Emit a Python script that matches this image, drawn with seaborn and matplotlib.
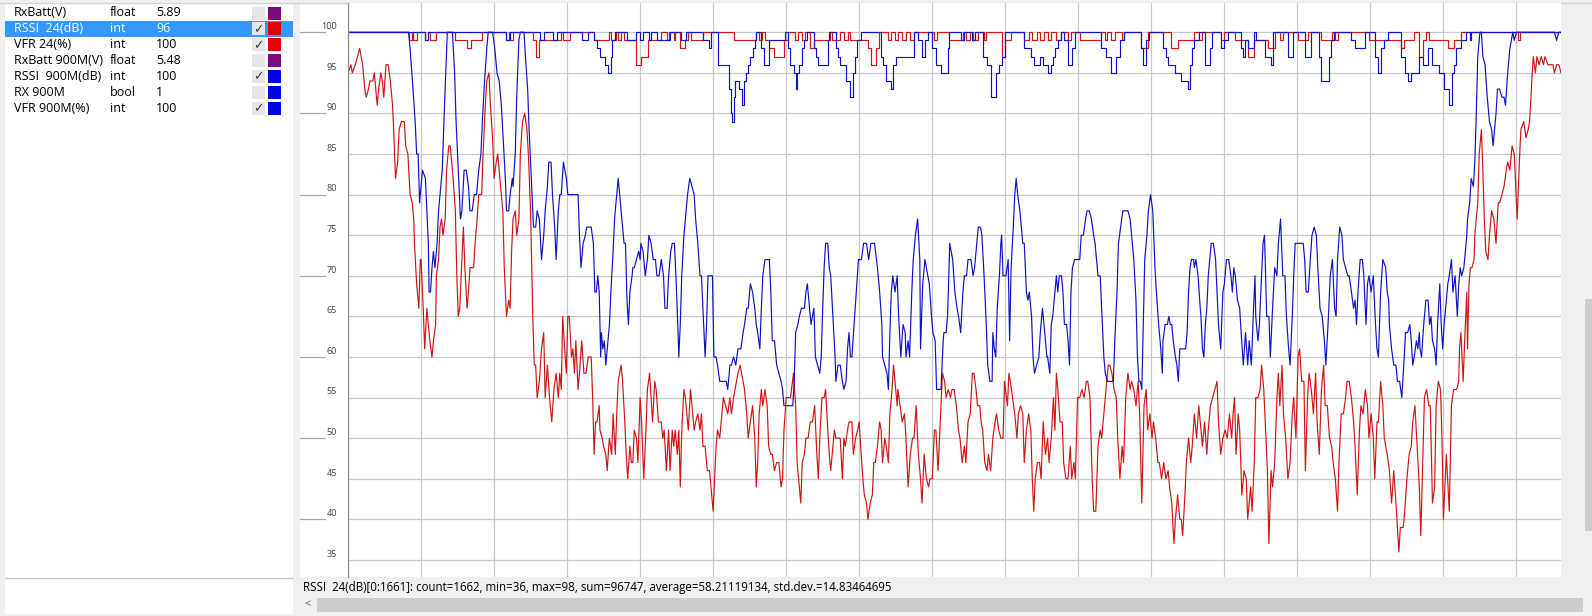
"""
plot.py - telemetry log viewer: RSSI / VFR for the 2.4G and 900M links
"""

import matplotlib
matplotlib.use("Agg")
import matplotlib.pyplot as plt
from matplotlib.patches import Rectangle
from matplotlib.ticker import MultipleLocator
import seaborn as sns

W, H = 1592, 616

# channel list in the left panel
chan_names  = ["RxBatt(V)", "RSSI  24(dB)", "VFR 24(%)", "RxBatt 900M(V)", "RSSI  900M(dB)", "RX 900M", "VFR 900M(%)"]
chan_types  = ["float", "int", "int", "float", "int", "bool", "int"]
chan_values = ["5.89", "96", "100", "5.48", "100", "1", "100"]
chan_shown  = [False, True, True, False, True, False, True]
chan_colors = ["#7d0a7d", "#e60000", "#e60000", "#7d0a7d", "#0000e6", "#0000e6", "#0000e6"]
selected_row = 1

status_text = ("RSSI  24(dB)[0:1661]: count=1662, min=36, max=98, sum=96747, "
               "average=58.21119134, std.dev.=14.83464695")

ytick_vals = list(range(35, 101, 5))

# RSSI 24 (dB) - sample index / value
rssi24_idx = [
    0, 4, 6, 10, 13, 16, 20, 23, 25, 28, 30, 34, 36, 38, 40, 42, 45, 47, 49, 52, 55, 58, 61, 63, 65, 68, 70, 73, 77, 79,
    82, 85, 88, 90, 91, 94, 97, 99, 100, 103, 105, 108, 110, 112, 115, 117, 120, 121, 124, 126, 128, 130, 133, 135, 138,
    140, 142, 144, 147, 149, 151, 153, 156, 158, 160, 163, 165, 167, 172, 174, 176, 179, 183, 185, 188, 190, 193, 195,
    198, 200, 203, 205, 208, 212, 214, 217, 220, 222, 224, 226, 229, 231, 234, 236, 239, 242, 245, 247, 250, 253, 255,
    257, 259, 262, 265, 268, 270, 273, 276, 279, 282, 285, 288, 290,
    292, 294, 296, 299, 301, 303, 306, 308, 310, 312, 315, 317, 320, 323, 326, 329, 333, 335, 337, 339, 341, 344, 345,
    348, 350, 353, 355, 357, 358, 361, 363, 366, 368, 370, 374, 376, 379, 381, 383, 386, 388, 390, 392, 395, 397, 400,
    402, 405, 408, 410, 413, 415, 417, 420, 422, 425, 429, 431, 433, 436, 439, 441, 444, 446, 448, 451, 453, 455, 457,
    460, 462, 464, 466, 469, 471, 474, 476, 479, 482, 484, 486, 489, 492, 495, 497, 500, 502, 504, 506, 509, 512, 514,
    517, 520, 523, 525, 528, 530, 534, 537, 539, 543, 546, 548, 551, 554, 557, 559, 561, 563, 566, 568, 571, 574, 576,
    579, 581, 584, 587, 590, 593,
    595, 597, 600, 602, 606, 610, 613, 615, 618, 620, 622, 625, 627, 630, 633, 636, 639, 642, 644, 646, 649, 652, 654,
    657, 659, 661, 664, 666, 668, 671, 674, 677, 679, 681, 684, 686, 690, 692, 695, 698, 700, 702, 705, 707, 710, 712,
    715, 718, 720, 722, 725, 728, 730, 732, 735, 737, 740, 742, 745, 747, 750, 752, 753, 756, 759, 762, 764, 767, 770,
    773, 775, 778, 781, 784, 786, 789, 792, 795, 797, 800, 803, 805, 808, 811, 814, 817, 819, 822, 825, 827, 830, 833,
    836, 838, 841, 844, 846, 849, 852, 855, 857, 860, 862, 865, 867, 869, 872, 875, 877, 880, 883, 886, 888, 891, 894,
    897, 899, 903, 905, 907, 910, 913, 916, 918, 921, 924, 926, 929, 932, 935, 937, 939, 941, 944, 947, 949, 952, 955,
    958, 960, 963, 966, 968, 970, 972, 975, 978, 980, 983, 986, 989, 991, 994, 996, 999, 1002, 1005, 1008, 1011, 1013,
    1016, 1019, 1021, 1024, 1027, 1030, 1032, 1035, 1038, 1041, 1043, 1046, 1049, 1052, 1054, 1057, 1060, 1062, 1065,
    1068, 1071, 1073, 1076, 1079, 1082, 1084, 1087, 1090, 1093, 1095, 1098, 1101, 1103, 1106, 1109, 1111, 1114, 1117,
    1120, 1123, 1125, 1128, 1131, 1133, 1136, 1139, 1141, 1143, 1146, 1148, 1151, 1154, 1156, 1159, 1162, 1165, 1168,
    1170, 1173, 1176, 1178, 1181, 1184, 1187, 1190, 1192, 1195,
    1198, 1201, 1204, 1207, 1210, 1212, 1214, 1216, 1219, 1221, 1224, 1227, 1230, 1232, 1233, 1236, 1238, 1241, 1243,
    1246, 1249, 1251, 1254, 1256, 1259, 1261, 1264, 1266, 1269, 1272, 1274, 1276, 1279, 1281, 1284, 1287, 1290, 1293,
    1295, 1298, 1301, 1303, 1306, 1309, 1311, 1314, 1316, 1319, 1322, 1325, 1327, 1330, 1333, 1336, 1338, 1341, 1344,
    1347, 1349, 1352, 1355, 1357, 1360, 1363, 1366, 1368, 1371, 1374, 1377, 1379, 1382, 1385, 1387, 1390, 1393, 1396,
    1398, 1401, 1404, 1406, 1409, 1411, 1414,
    1417, 1419, 1423, 1426, 1429, 1432, 1435, 1439, 1441, 1445, 1447, 1450, 1453, 1456, 1458, 1461, 1464, 1467, 1469,
    1471, 1474, 1477, 1480, 1482, 1485, 1488, 1490, 1493, 1496, 1498, 1500, 1504, 1508, 1511, 1514, 1518, 1521, 1522,
    1524, 1527, 1530, 1532, 1533, 1535, 1537, 1539, 1542, 1543, 1545, 1547, 1549, 1552, 1554, 1556, 1558, 1561, 1563,
    1566, 1569, 1572, 1575, 1577, 1580, 1583, 1586, 1588, 1591, 1594, 1597, 1599, 1601, 1604, 1606, 1610, 1613, 1616,
    1618, 1621, 1623, 1626, 1628, 1631, 1634, 1637, 1639, 1643, 1647, 1650, 1652, 1655, 1658, 1661,
]
rssi24_val = [
    95, 96, 95, 96, 97, 98, 96, 93, 92, 93, 94, 94, 95, 93, 91, 93, 95, 94, 92, 96, 96, 94, 91, 87, 82, 84, 88, 89, 89, 86,
    85, 80, 79, 77, 74, 69, 66, 72, 72, 66, 61, 66, 64, 62, 60, 62, 64, 70, 72, 76, 77, 75, 77, 83, 86,
    86, 84, 82, 78, 70, 65, 66, 72, 76, 71, 66, 68, 71, 71, 74, 76, 80, 80, 85, 91, 94, 95, 91,
    87, 82, 84, 85, 82, 78, 71, 65, 67, 66, 73, 77, 78, 75, 77, 85, 89, 90, 88, 85, 78, 65, 59,
    59, 55, 57, 61, 63, 55, 59, 55, 52, 56, 58, 55, 58,
    56, 65, 62, 58, 65, 65, 60, 61, 58, 62, 56, 58, 62, 58, 58, 60, 60, 55, 48, 52, 52, 54, 51,
    50, 49, 48, 46, 49, 50, 48, 53, 48, 53, 57, 59, 57, 52, 48, 45, 49, 47, 47, 51, 50, 47, 55,
    52, 45, 51, 56, 58, 55, 52, 57, 56, 52, 52, 50, 51, 46, 51, 46, 51, 49, 51, 48, 51, 44, 51,
    56, 55, 53, 51, 56, 54, 51, 52, 53, 51, 53, 49, 49, 46, 46, 44, 41, 45, 49, 51, 50, 53, 55,
    54, 53, 55, 53, 55, 56, 58, 59, 58, 56, 53, 50, 52, 54, 50, 44, 47, 53, 56, 54, 56, 54, 49,
    48, 48, 46, 47, 47, 44,
    45, 51, 55, 55, 55, 58, 54, 47, 44, 42, 47, 48, 50, 50, 52, 52, 54, 48, 45, 50, 55, 55, 56,
    51, 48, 46, 49, 51, 50, 50, 50, 45, 50, 49, 51, 52, 52, 48, 50, 51, 52, 49, 45, 43, 42, 40,
    42, 43, 47, 47, 49, 52, 51, 47, 50, 49, 47, 53, 56, 59, 56, 54, 56, 54, 52, 53, 50, 44, 48,
    50, 50, 54, 48, 45, 42, 48, 45, 44, 45, 45, 51, 51, 46, 52, 58, 57, 55, 56, 55, 56, 56, 54,
    51, 50, 47, 49, 47, 52, 53, 58, 58, 56, 54, 54, 52, 51, 47, 46, 48, 46, 50, 52, 53, 51, 50,
    50, 57, 54, 58, 57, 55, 53, 50, 53, 54, 53, 47, 51, 53, 51, 45, 41, 45, 47, 47, 45, 52, 48,
    50, 47, 50, 55, 51, 58, 56, 52, 52, 47, 45, 45, 49, 45, 47, 45, 55, 55, 56, 55, 57, 57,
    55, 45, 41, 41, 49, 51, 50, 53, 56, 59, 59, 58, 56, 55, 50, 45, 49, 47, 55,
    58, 56, 57, 56, 54, 57, 53, 42, 54, 56, 51, 53, 50, 52, 50, 47, 47, 45, 47,
    45, 46, 44, 42, 37, 40, 43, 40, 40, 38, 43, 47, 50, 47, 49, 53, 50, 54, 51,
    49, 52, 48, 51, 54, 55, 56, 57, 52, 48,
    50, 51, 50, 53, 50, 53, 55, 48, 53, 51, 43, 46, 45, 40, 41, 44, 41, 47, 55,
    55, 56, 59, 56, 52, 46, 37, 46, 44, 47, 55, 58, 54, 59, 53, 50, 45, 47, 53,
    55, 50, 60, 61, 57, 57, 46, 55, 58, 56, 53, 58, 52, 48, 56, 59, 54, 54, 50,
    49, 47, 45, 41, 47, 53, 53, 55, 57, 57, 55, 52, 49, 43, 51, 54, 53, 56, 54,
    50, 53, 50, 45, 52, 52, 57,
    54, 50, 48, 46, 42, 46, 42, 36, 39, 39, 41, 45, 48, 49, 52, 54, 49, 44, 38,
    45, 55, 56, 54, 54, 42, 44, 54, 57, 56, 50, 40, 48, 41, 54, 56, 56, 57, 61,
    63, 57, 64, 68, 61, 69, 71, 71, 72, 75, 77, 79, 85, 88, 83, 77, 73, 72, 75,
    78, 77, 74, 79, 79, 80, 81, 83, 84, 83, 86, 85, 81, 77, 84, 88, 89, 87, 88,
    89, 94, 97, 95, 97, 96, 97, 96, 97, 96, 96, 96, 95, 96, 96, 95,
]

# VFR 24 (%) - run starts / values
vfr24_start = [
    0, 83, 87, 89, 94, 105, 110, 112, 121, 147, 163, 169, 183, 217, 220, 222, 226, 254, 258, 262, 292, 294, 304, 337,
    358, 360, 367, 370, 374, 378, 395, 401, 411, 429, 437, 439, 446, 448, 454, 461, 466, 469, 486, 529, 559, 563, 567,
    571, 577, 584, 597, 602, 612, 616, 622, 626, 632, 638, 660, 663, 674, 679, 684, 688, 712, 716, 723, 727, 739, 744,
    749, 753, 758, 764, 770, 775, 802, 806, 823, 842, 846, 852, 856, 862, 871, 874, 895, 899, 908, 926, 932, 936, 944,
    948, 953, 958, 963, 970, 976, 986, 990, 1002, 1031, 1036, 1040, 1045, 1050, 1060, 1063, 1086, 1095, 1127, 1137,
    1159, 1165, 1170, 1196, 1200, 1214, 1232, 1241, 1260, 1269, 1276, 1280, 1301, 1315, 1333, 1347, 1352, 1356, 1398,
    1442, 1446, 1460, 1467, 1472, 1476, 1480, 1506, 1515, 1524, 1602, 1605, 1661,
]
vfr24_val = [
    100, 99, 100, 99, 100, 99, 100, 99, 100, 99, 98, 99, 100, 99, 100, 99, 100, 99, 97, 99, 100, 99, 100, 99,
    100, 99, 100, 99, 100, 99, 96, 97, 99, 100, 99, 100, 99, 100, 98, 99, 100, 99, 100, 99, 100, 99, 100,
    99, 98, 97, 99, 100, 99, 100, 99, 100, 98, 99, 100, 99, 100, 99, 100, 99, 98, 96, 98, 100, 99, 100,
    99, 100, 99, 100, 99, 100, 99, 100, 99, 100, 99, 100, 99, 100, 99, 100, 97, 99, 100, 99, 100, 99, 100,
    99, 100, 99, 100, 99, 100, 99, 100, 99, 100, 99, 100, 99, 100, 99, 100, 98, 100, 98, 99,
    100, 99, 100, 99, 100, 99, 97, 99, 98, 100, 99, 100, 99, 100, 99, 100, 99, 100, 99,
    98, 99, 100, 97, 99, 100, 99, 98, 99, 100, 99, 100, 100,
]

# RSSI 900M (dB) - sample index / value
rssi900_idx = [
    0, 83, 85, 89, 92, 94, 96, 98, 100, 102, 106, 108, 110, 111, 113, 115, 117, 119, 121, 122, 124, 126, 129, 131, 133,
    136, 143, 146, 148, 150, 152, 154, 156, 159, 162, 165, 167, 170, 173, 176, 179, 182, 184, 187, 190, 192, 198, 201,
    204, 207, 210, 213, 216, 217, 220, 222, 225, 226, 229, 231, 234, 236, 241, 243, 246, 248, 251, 254, 257, 259, 262,
    265, 268, 270, 273, 275, 278, 280, 283, 285, 288, 290,
    292, 295, 299, 301, 315, 317, 319, 322, 325, 327, 333, 336, 338, 340, 342, 344, 346, 347, 349, 351, 353, 356, 358,
    360, 363, 365, 368, 370, 372, 375, 378, 380, 382, 384, 386, 389, 390, 392, 395, 398, 400, 401, 404, 407, 410, 412,
    415, 418, 421, 423, 426, 429, 432, 434, 437, 439, 442, 444, 447, 449, 452, 453, 455, 457, 460, 463, 465, 468, 471,
    474, 476, 479, 482, 484, 486, 489, 491, 493, 499, 501, 504, 506, 509, 512, 518, 520, 523, 525, 528, 531, 534, 538,
    541, 543, 546, 548, 551, 554, 557, 559, 561, 564, 566, 568, 571, 574, 577, 579, 581, 584, 587, 590, 593,
    595, 597, 609, 611, 613, 616, 618, 621, 625, 627, 629, 632, 634, 636, 638, 640, 643, 646, 648, 650, 652, 654, 657,
    659, 661, 664, 667, 668, 671, 674, 677, 679, 682, 684, 686, 688, 690, 693, 696, 699, 703, 706, 710, 713, 716, 721,
    725, 728, 731, 732, 735, 738, 740, 742, 744, 746, 749, 752, 754, 757, 760, 763, 764, 767, 769, 772, 774, 777, 780,
    783, 784, 787, 790, 794, 796, 799, 801, 804, 806, 812, 815, 816, 819, 821, 824, 826, 828, 831, 834, 836, 839, 842,
    844, 847, 849, 853, 856, 858, 860, 863, 866, 868, 871, 874, 876, 879, 882, 883, 885, 887, 889, 892, 894,
    895, 897, 899, 901, 904, 906, 908, 911, 913, 915, 917, 920, 922, 924, 926, 929, 931, 933, 936, 938, 940, 943, 946,
    948, 951, 954, 957, 958, 961, 963, 965, 968, 970, 972, 974, 977, 979, 981, 984, 986, 988, 990, 992, 995, 1002, 1004,
    1007, 1010, 1012, 1015, 1018, 1021, 1023, 1027, 1030, 1032, 1035, 1037, 1040, 1048, 1050, 1053, 1055, 1058, 1061,
    1068, 1071, 1073, 1076, 1079, 1081, 1083, 1085, 1087, 1089, 1091, 1094, 1096, 1099, 1102, 1105, 1107, 1110, 1113,
    1115, 1116, 1119, 1122, 1124, 1126, 1128, 1130, 1133, 1135, 1137, 1139, 1147, 1149, 1151, 1153, 1155, 1158, 1159,
    1161, 1164, 1167, 1168, 1170, 1172, 1174, 1176, 1178, 1180, 1182, 1185, 1188, 1190, 1192, 1195,
    1198, 1200, 1203, 1206, 1209, 1211, 1213, 1215, 1218, 1221, 1223, 1226, 1229, 1232, 1234, 1237, 1240, 1242, 1243,
    1246, 1248, 1251, 1253, 1255, 1258, 1261, 1263, 1266, 1269, 1272, 1274, 1277, 1280, 1283, 1285, 1288, 1290, 1293,
    1295, 1297, 1308, 1310, 1312, 1315, 1317, 1320, 1323, 1326, 1328, 1331, 1334, 1337, 1339, 1342, 1345, 1348, 1351,
    1353, 1355, 1358, 1361, 1363, 1366, 1369, 1371, 1374, 1377, 1379, 1381, 1383, 1386, 1389, 1391, 1394, 1396, 1398,
    1401, 1404, 1407, 1409, 1411, 1414, 1417,
    1421, 1423, 1425, 1426, 1429, 1432, 1435, 1437, 1440, 1443, 1445, 1447, 1448, 1451, 1454, 1456, 1458, 1460, 1463,
    1465, 1467, 1468, 1470, 1473, 1476, 1479, 1481, 1483, 1485, 1488, 1490, 1492, 1495, 1497, 1499, 1501, 1504, 1506,
    1508, 1511, 1513, 1516, 1519, 1521, 1523, 1525, 1528, 1530, 1532, 1533, 1536, 1538, 1541, 1543, 1545, 1547, 1550,
    1552, 1554, 1557, 1560, 1563, 1566, 1568, 1570, 1572, 1574, 1577, 1580, 1583, 1585, 1588, 1591, 1593, 1595, 1597,
    1600, 1652, 1655, 1658, 1661,
]
rssi900_val = [
    100, 100, 98, 93, 89, 85, 85, 79, 81, 83, 82, 78, 74, 68, 68, 71, 73, 71, 73, 74, 78, 80, 83, 88, 93,
    100, 100, 95, 89, 85, 81, 77, 78, 83, 83, 81, 78, 78, 80, 80, 83, 85, 89, 94, 98, 100, 100, 98,
    95, 94, 91, 86, 81, 78, 78, 80, 82, 81, 85, 92, 99, 100, 100, 97, 93, 88, 82, 76, 76, 78, 77,
    72, 75, 78, 81, 84, 84, 80, 76, 72, 78, 80,
    80, 84, 82, 80, 80, 75, 71, 74, 75, 76, 76, 74, 68, 68, 70, 68, 60, 63, 61, 62, 59, 62, 64,
    68, 73, 77, 80, 82, 80, 77, 74, 74, 67, 64, 68, 70, 71, 71, 72, 73, 72, 74, 73, 70, 72, 75,
    74, 72, 72, 70, 70, 72, 70, 66, 66, 70, 73, 74, 74, 70, 63, 60, 64, 70, 75, 78, 80, 82, 81,
    80, 77, 74, 70, 70, 66, 60, 64, 70, 70, 60, 60, 59, 57, 57, 57, 56, 59, 59, 60, 59, 61, 61,
    63, 64, 66, 66, 69, 68, 66, 64, 63, 61, 66, 70, 72, 72, 72, 68, 62, 62, 59, 58, 57,
    56, 54, 54, 57, 63, 64, 65, 66, 66, 68, 69, 66, 64, 65, 66, 60, 59, 58, 60, 66, 71, 74, 74,
    71, 70, 65, 60, 57, 59, 59, 57, 56, 57, 61, 63, 60, 60, 64, 68, 72, 72, 74, 74, 72, 74, 74,
    71, 68, 64, 60, 59, 58, 56, 63, 68, 70, 68, 70, 65, 60, 64, 63, 60, 62, 60, 68, 72, 75, 77,
    72, 61, 69, 72, 70, 69, 65, 63, 62, 56, 56, 62, 63, 63, 65, 74, 73, 72, 68, 66, 65, 63, 68,
    70, 70, 72, 72, 70, 71, 73, 76, 76, 75, 70, 64, 59, 57, 57, 63, 61, 60, 66, 70, 74,
    75, 70, 70, 70, 72, 62, 71, 76, 80, 82, 80, 78, 76, 74, 74, 68, 67, 68, 65, 60, 58, 59, 60,
    63, 66, 63, 60, 60, 58, 64, 65, 68, 70, 68, 70, 70, 68, 64, 64, 62, 59, 68, 71, 72, 72, 75,
    75, 77, 78, 78, 77, 75, 74, 70, 70, 66, 60, 58, 57, 57, 62, 68, 74, 76, 78,
    78, 77, 75, 72, 67, 60, 57, 57, 56, 64, 72, 75, 78, 80, 78, 71, 68, 64, 61,
    58, 62, 64, 64, 65, 64, 64, 62, 60, 59, 57, 61, 61, 63, 68, 71, 72, 72, 71,
    72, 70, 66, 65, 61, 60, 64, 66, 70, 72, 74, 74, 72, 68, 64, 61,
    68, 69, 72, 72, 70, 68, 71, 70, 67, 66, 63, 59, 63, 59, 62, 59, 66, 70, 65,
    62, 64, 70, 74, 75, 65, 65, 60, 66, 71, 70, 74, 77, 70, 70, 65, 61, 59, 65,
    70, 74, 74, 72, 68, 68, 71, 75, 76, 75, 71, 66, 65, 62, 59, 64, 70, 72, 66,
    65, 72, 76, 75, 72, 71, 70, 70, 68, 66, 67, 64, 68, 72, 72, 70, 64, 69, 70,
    68, 70, 64, 61, 60, 68, 72,
    71, 68, 67, 64, 61, 59, 59, 57, 57, 55, 58, 61, 63, 63, 64, 62, 59, 60, 62,
    61, 63, 61, 60, 64, 67, 67, 64, 65, 62, 61, 59, 64, 69, 64, 61, 64, 67, 69,
    70, 72, 68, 70, 65, 69, 71, 70, 71, 73, 75, 77, 79, 82, 81, 84, 90, 97, 100,
    100, 97, 96, 92, 89, 88, 86, 88, 90, 93, 93, 92, 92, 91, 95, 98, 99, 100, 99,
    100, 100, 99, 100, 100,
]

# VFR 900M (%) - run starts / values
vfr900_start = [
    0, 106, 110, 217, 222, 263, 268, 281, 286, 320, 328, 337, 341, 345, 352, 356, 360, 362, 366, 382, 395, 400, 404,
    412, 415, 423, 441, 456, 463, 486, 495, 497, 506, 522, 524, 526, 528, 530, 536, 540, 542, 545, 548, 551, 554, 557,
    559, 566, 570, 577, 599, 602, 605, 611, 613, 615, 618, 621, 625, 629, 638, 641, 643, 657, 659, 668, 671, 674, 682,
    688, 691, 694, 697, 702, 730, 733, 737, 744, 746, 750, 775, 781, 786, 790, 794, 800, 805, 812, 821, 823, 840, 843,
    855, 858, 870, 875, 880, 887, 891, 895, 899, 926, 935, 940, 947, 952, 958, 962, 966, 968, 972, 976, 981, 986, 992,
    995, 1031, 1038, 1045, 1052, 1057, 1063, 1086, 1089, 1093, 1097, 1116, 1120, 1123, 1132, 1141, 1150, 1153, 1156,
    1159, 1165, 1173, 1180, 1183, 1196, 1200, 1205, 1223, 1226, 1228, 1232, 1241, 1244, 1255, 1264, 1267, 1287, 1294,
    1310, 1319, 1329, 1333, 1343, 1346, 1350, 1374, 1379, 1392, 1406, 1410, 1415, 1419, 1424, 1442, 1447, 1451, 1456,
    1467, 1472, 1479, 1485, 1494, 1501, 1508, 1512, 1515, 1517, 1524, 1531, 1536, 1538, 1661,
]
vfr900_val = [
    100, 99, 100, 99, 100, 99, 100, 99, 100, 99, 100, 99, 98, 97, 96, 95, 97, 99, 100, 99, 100, 99, 100,
    99, 100, 99, 100, 99, 100, 99, 98, 100, 96, 93, 90, 89, 92, 94, 93, 91, 94, 95, 96, 97, 98, 99,
    100, 98, 96, 99, 100, 98, 96, 95, 93, 95, 96, 98, 99, 100, 98, 97, 96, 99, 100, 98, 97, 96, 94,
    92, 95, 97, 99, 100, 97, 96, 94, 93, 96, 97, 100, 99, 97, 99, 100, 98, 96, 95, 98, 100, 99, 100,
    99, 100, 97, 96, 92, 95, 96, 97, 100, 98, 97, 96, 97, 96, 95, 96, 97, 98, 99, 100, 99, 96, 98,
    100, 98, 97, 95, 97, 99, 100, 98, 96, 99, 100, 98, 97, 96, 95, 94, 93, 96, 98,
    99, 100, 96, 98, 100, 98, 99, 100, 98, 97, 99, 98, 100, 99, 97, 96, 100, 97, 100,
    97, 100, 97, 94, 97, 99, 100, 99, 98, 100, 97, 95, 98, 99, 100, 97, 95, 94, 95,
    97, 96, 98, 96, 95, 93, 91, 95, 96, 98, 99, 100, 99, 100, 100,
]

RED = "#d01414"
BLUE = "#1010c4"
PANEL_BG = "#f0f0f2"
GRID = "#c8c8c8"


def px_axes(fig, x0, y0, x1, y1):
    # axes placed by pixel box (top-left origin)
    return fig.add_axes([x0 / W, 1 - y1 / H, (x1 - x0) / W, (y1 - y0) / H])


def main():
    sns.set_style("white")
    plt.rcParams["font.family"] = ["Open Sans", "DejaVu Sans"]

    fig = plt.figure(figsize=(W / 100, H / 100), dpi=100, facecolor=PANEL_BG)

    # window chrome drawn in pixel coordinates
    bg = fig.add_axes([0, 0, 1, 1], zorder=0)
    bg.set_xlim(0, W)
    bg.set_ylim(H, 0)
    bg.axis("off")
    bg.add_patch(Rectangle((5, 3), 288, 611, color="white", lw=0))
    bg.add_patch(Rectangle((300, 3), 1261, 574, color="white", lw=0))
    bg.plot([0, W], [2.5, 2.5], color="#d4d4d4", lw=1)
    bg.plot([5, 293], [578, 578], color="#c8c8c8", lw=1)

    # channel rows
    row_y = [13 + 15.9 * i for i in range(len(chan_names))]
    for i, yc in enumerate(row_y):
        fg = "black"
        if i == selected_row:
            bg.add_patch(Rectangle((5, yc - 8), 288, 16, color="#3399ff", lw=0))
            fg = "white"
        bg.text(14, yc, chan_names[i], fontsize=9, color=fg, va="center")
        bg.text(110, yc, chan_types[i], fontsize=9, color=fg, va="center")
        bg.text(156, yc, chan_values[i], fontsize=9, color=fg, va="center")
        bg.add_patch(Rectangle((252, yc - 6.5), 13, 13, color="#e6e6ea", lw=0))
        bg.add_patch(Rectangle((268, yc - 6.5), 13, 13, color=chan_colors[i], lw=0))
        if chan_shown[i]:
            bg.text(258.5, yc + 0.5, "\u2713", fontsize=9, color="#404040", ha="center", va="center",
                    family="DejaVu Sans")

    # status bar and scrollbars
    bg.text(303, 588, status_text, fontsize=8.3, color="black", va="center")
    bg.add_patch(Rectangle((317, 598), 1266, 14, color="#cdcdcd", lw=0))
    bg.text(308, 605, "<", fontsize=8, color="#606060", ha="center", va="center")
    bg.add_patch(Rectangle((1585, 299), 7, 232, color="#cdcdcd", lw=0))

    # plot area
    ax = px_axes(fig, 348, 3, 1561, 577)
    ax.set_zorder(1)
    ax.set_facecolor("white")

    sns.lineplot(x=rssi24_idx, y=rssi24_val, ax=ax, color=RED, lw=0.85, estimator=None, legend=False)
    sns.lineplot(x=vfr24_start, y=vfr24_val, ax=ax, color=RED, lw=0.85, estimator=None, legend=False,
                 drawstyle="steps-post")
    sns.lineplot(x=rssi900_idx, y=rssi900_val, ax=ax, color=BLUE, lw=0.85, estimator=None, legend=False)
    sns.lineplot(x=vfr900_start, y=vfr900_val, ax=ax, color=BLUE, lw=0.85, estimator=None, legend=False,
                 drawstyle="steps-post")

    ax.set_xlim(0, 1661)
    ax.set_ylim(32.9, 103.6)
    ax.set_xlabel("")
    ax.set_ylabel("")

    ax.xaxis.set_major_locator(MultipleLocator(100))
    ax.yaxis.set_major_locator(MultipleLocator(5))
    ax.yaxis.set_minor_locator(MultipleLocator(1))
    ax.grid(True, which="major", color=GRID, lw=0.9)
    ax.set_axisbelow(True)
    ax.tick_params(axis="x", length=0, labelbottom=False)
    ax.tick_params(axis="y", which="major", length=16.5, width=0.8, color=GRID, labelleft=False)
    ax.tick_params(axis="y", which="minor", length=4.5, width=0.7, color="#a0a0a0")

    for side in ["top", "right", "bottom"]:
        ax.spines[side].set_visible(False)
    ax.spines["left"].set_color("#909090")
    ax.spines["left"].set_linewidth(0.9)

    # long ticks on the tens reach the panel edge
    ytr = ax.get_yaxis_transform()
    for v in ytick_vals:
        if v % 10 == 0:
            ax.plot([-48 / 1213, -23 / 1213], [v, v], transform=ytr, color="#a8a8a8", lw=0.9, clip_on=False)
        ax.text(-11 / 1213, v + 0.4, str(v), transform=ytr, fontsize=6.5, color="#404040",
                ha="right", va="baseline")

    fig.savefig("out.png", dpi=100, facecolor=fig.get_facecolor())
    plt.close(fig)


if __name__ == "__main__":
    main()
